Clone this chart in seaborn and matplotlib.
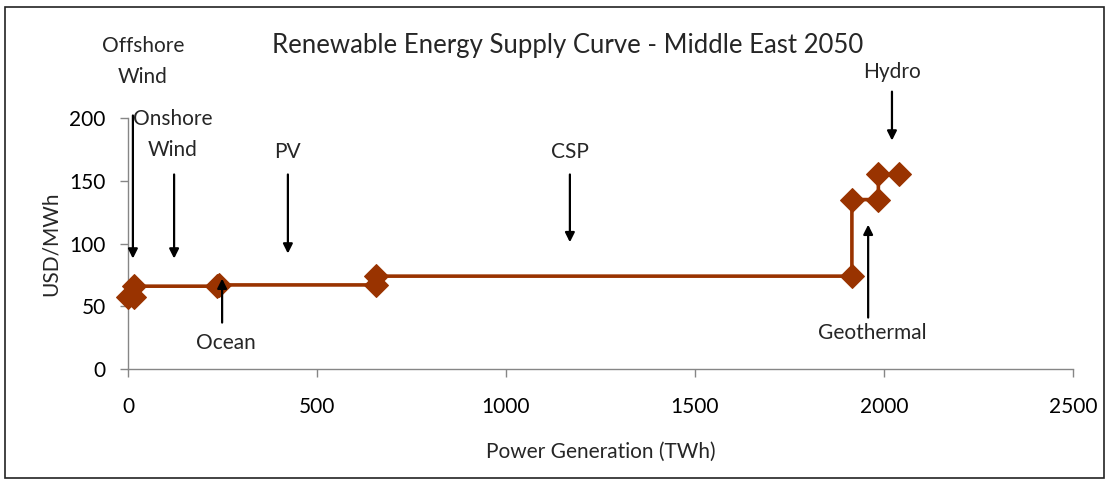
import matplotlib
matplotlib.use("Agg")
import matplotlib.pyplot as plt
import matplotlib.patches as mpatches
import seaborn as sns
import pandas as pd

# Cumulative generation (TWh) and cost (USD/MWh) at the start and end of each technology step
generation = [0, 15, 15, 235, 240, 655, 655, 1915, 1915, 1985, 1985, 2040]
cost = [57, 57, 66, 66, 67, 67, 74, 74, 135, 135, 155, 155]

# Technology labels: (text, text position, arrow tail, arrow head) in data units
tech_labels = ["Offshore\nWind", "Onshore\nWind", "PV", "CSP", "Hydro", "Ocean", "Geothermal"]
label_pos = [(40, 245), (119, 187), (423, 173), (1169, 173), (2021, 237), (259, 21), (1968, 29)]
arrow_tail = [(13, 202), (122, 155), (423, 155), (1169, 155), (2021, 221), (249, 37), (1958, 41)]
arrow_head = [(13, 88), (122, 88), (423, 92), (1169, 101), (2021, 182), (249, 72), (1958, 115)]

x_ticks = [0, 500, 1000, 1500, 2000, 2500]
y_ticks = [0, 50, 100, 150, 200]

sns.set_theme(style="white")
plt.rcParams["font.family"] = ["Lato", "DejaVu Sans"]

df = pd.DataFrame({"generation": generation, "cost": cost})

fig = plt.figure(figsize=(11.1, 4.82), dpi=100)
ax = fig.add_axes([0.1153, 0.2344, 0.8514, 0.5208])

sns.lineplot(data=df, x="generation", y="cost", sort=False, estimator=None,
             ax=ax, color="#993300", linewidth=2.6, marker="D", markersize=12,
             markeredgecolor="#993300", markerfacecolor="#993300",
             clip_on=False, zorder=3)

ax.set_xlim(0, 2500)
ax.set_ylim(0, 200)
ax.set_xticks(x_ticks)
ax.set_yticks(y_ticks)
ax.tick_params(axis="both", labelsize=15, colors="#000000", length=6,
               width=1, direction="out", pad=10)
ax.tick_params(axis="x", pad=14)
ax.tick_params(axis="both", color="#868686")
ax.xaxis.set_ticks_position("bottom")
ax.yaxis.set_ticks_position("left")
for side in ["top", "right"]:
    ax.spines[side].set_visible(False)
for side in ["left", "bottom"]:
    ax.spines[side].set_color("#868686")
    ax.spines[side].set_linewidth(1)

ax.set_xlabel("Power Generation (TWh)", fontsize=15, labelpad=18)
ax.set_ylabel("USD/MWh", fontsize=15, labelpad=6)
ax.set_title("Renewable Energy Supply Curve - Middle East 2050",
             fontsize=18.5, x=0.465, y=1.225)

for text, pos, tail, head in zip(tech_labels, label_pos, arrow_tail, arrow_head):
    ax.annotate("", xy=head, xytext=tail, xycoords="data", textcoords="data",
                annotation_clip=False,
                arrowprops=dict(arrowstyle="-|>", color="black", lw=1.6,
                                mutation_scale=14, shrinkA=0, shrinkB=0))
    ax.text(pos[0], pos[1], text, ha="center", va="center", fontsize=15,
            linespacing=1.7, clip_on=False)

# Outer frame around the whole chart
fig.patches.append(mpatches.Rectangle((0.0045, 0.008), 0.9905, 0.978,
                                      transform=fig.transFigure, fill=False,
                                      edgecolor="#222222", linewidth=1.2))

fig.savefig("out.png", dpi=100)
